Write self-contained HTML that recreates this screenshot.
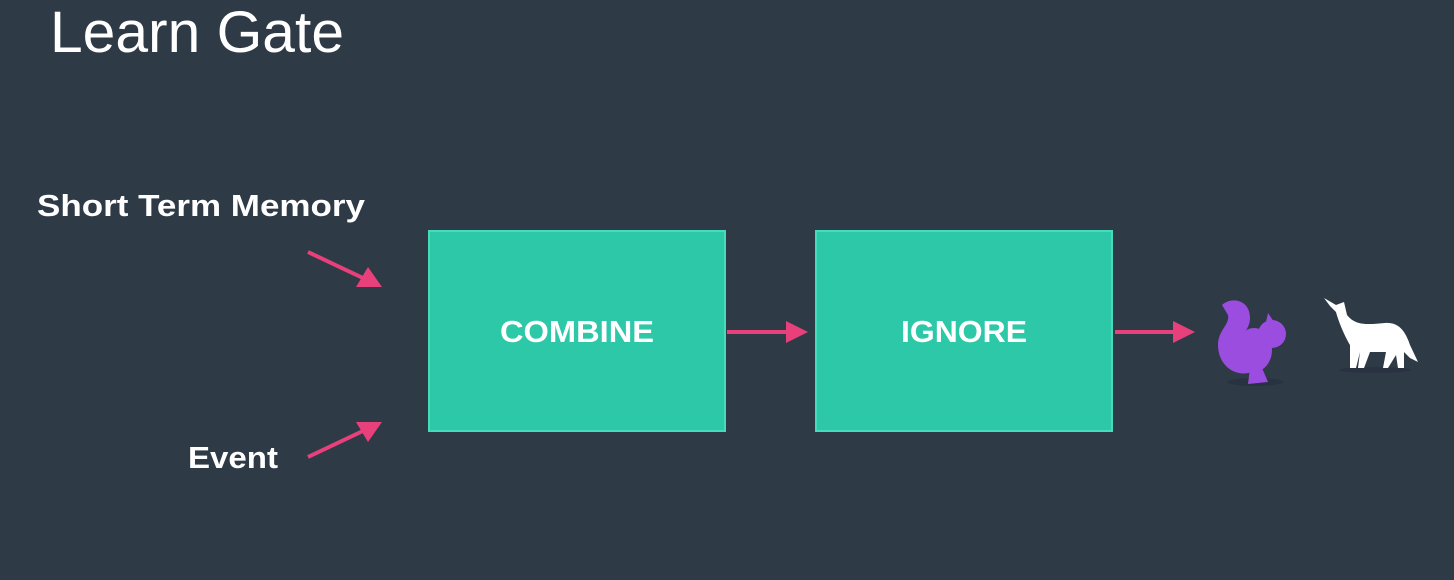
<!DOCTYPE html>
<html><head><style>
html,body{margin:0;padding:0;background:#2f3a47;}
svg{display:block}
</style></head><body>
<svg width="1454" height="580" viewBox="0 0 1454 580" xmlns="http://www.w3.org/2000/svg">
<rect width="1454" height="580" fill="#2f3a47"/>
<text x="50" y="52" font-family="Liberation Sans, sans-serif" font-size="58" fill="#ffffff" textLength="294" lengthAdjust="spacingAndGlyphs">Learn Gate</text>
<g font-family="Liberation Sans, sans-serif" font-weight="bold" fill="#ffffff">
<text x="37" y="216" font-size="31" textLength="328" lengthAdjust="spacingAndGlyphs">Short Term Memory</text>
<text x="188" y="468" font-size="31" textLength="90" lengthAdjust="spacingAndGlyphs">Event</text>
</g>
<rect x="429" y="231" width="296" height="200" fill="#2dc8a8" stroke="#45dcbc" stroke-width="2"/>
<rect x="816" y="231" width="296" height="200" fill="#2dc8a8" stroke="#45dcbc" stroke-width="2"/>
<g font-family="Liberation Sans, sans-serif" font-weight="bold" fill="#ffffff" font-size="31">
<text x="500" y="342" textLength="154" lengthAdjust="spacingAndGlyphs">COMBINE</text>
<text x="901" y="342" textLength="126" lengthAdjust="spacingAndGlyphs">IGNORE</text>
</g>
<g stroke="#e8407a" stroke-width="4" fill="#e8407a">
<line x1="308" y1="252" x2="365" y2="279"/>
<polygon points="382,287 356,287 368,267" stroke="none"/>
<line x1="308" y1="457" x2="365" y2="430"/>
<polygon points="382,422 368,442 356,422" stroke="none"/>
<line x1="727" y1="332" x2="792" y2="332"/>
<polygon points="808,332 786,321 786,343" stroke="none"/>
<line x1="1115" y1="332" x2="1178" y2="332"/>
<polygon points="1195,332 1173,321 1173,343" stroke="none"/>
</g>
<!-- squirrel -->
<ellipse cx="1255" cy="382" rx="28" ry="4" fill="#283240"/>
<g fill="#9b4de0">
<path d="M1222,305 C1232,296 1250,300 1250,318 C1250,330 1240,335 1238,345 C1238,355 1245,362 1252,360 L1252,372 C1235,378 1218,365 1218,345 C1218,330 1230,325 1228,315 Z"/>
<ellipse cx="1254" cy="350" rx="18" ry="22"/>
<circle cx="1272" cy="334" r="14"/>
<path d="M1266,322 L1268,313 L1274,322 Z"/>
<path d="M1250,368 L1262,368 L1268,382 L1248,384 Z"/>
</g>
<!-- wolf -->
<ellipse cx="1375" cy="370" rx="36" ry="3" fill="#283240"/>
<path fill="#ffffff" d="M1324,298 L1336,305 L1344,302 L1347,315 C1355,325 1365,325 1385,323 C1398,322 1405,330 1410,345 L1418,362 L1410,358 L1404,352 L1404,368 L1398,368 L1396,355 L1388,368 L1383,368 L1386,352 L1370,352 L1364,368 L1358,368 L1360,352 L1356,368 L1350,368 L1350,345 C1344,335 1338,320 1336,312 L1330,306 Z"/>
</svg>
</body></html>
